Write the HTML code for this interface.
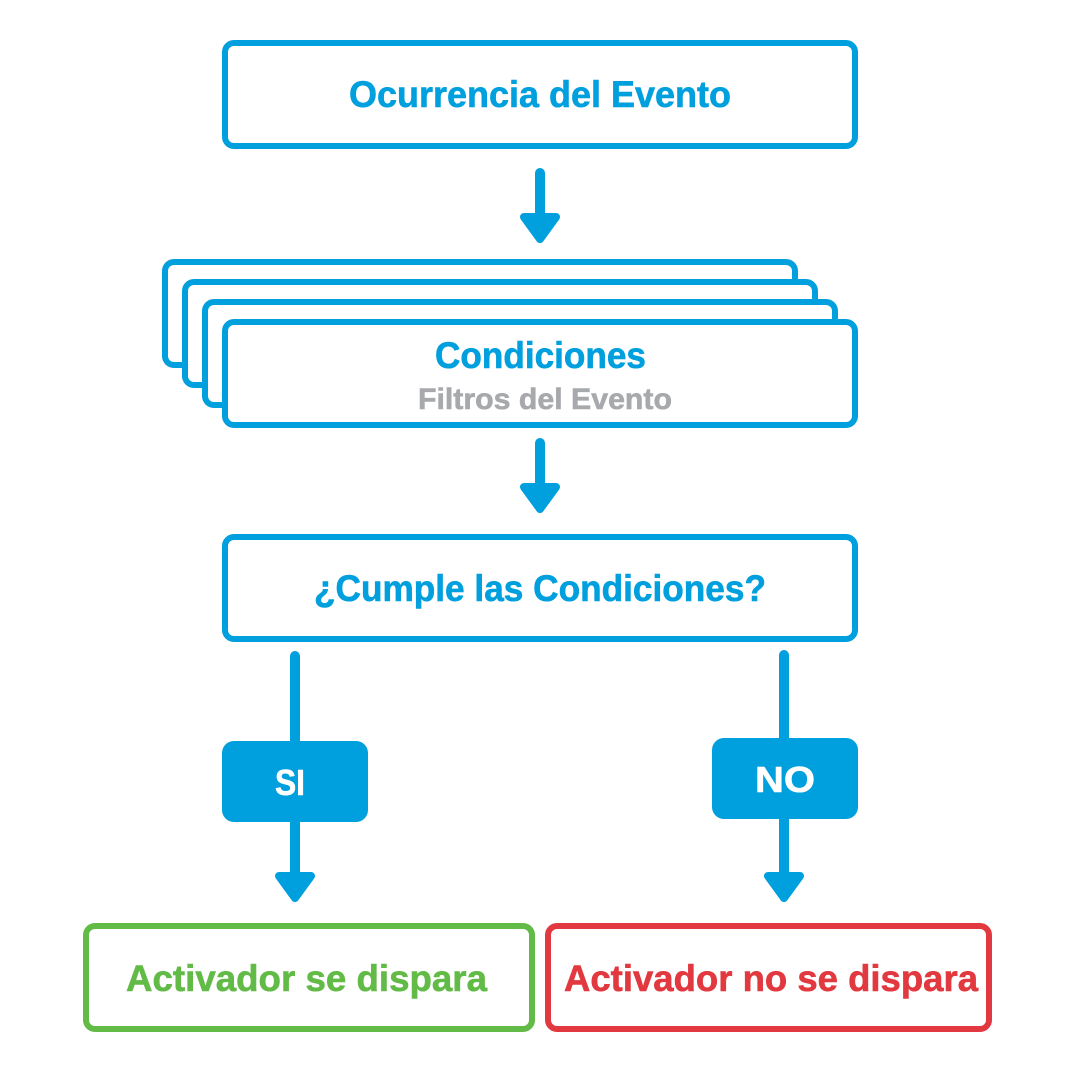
<!DOCTYPE html>
<html>
<head>
<meta charset="utf-8">
<style>
html,body{margin:0;padding:0;background:#fff}
svg{display:block}
text{font-family:"Liberation Sans",sans-serif;font-weight:700;stroke-width:.6px;paint-order:stroke}
</style>
</head>
<body>
<svg width="1080" height="1080" viewBox="0 0 1080 1080" xmlns="http://www.w3.org/2000/svg">
<rect width="1080" height="1080" fill="#fff"/>
<g fill="#fff" stroke="#009fdd" stroke-width="6">
<rect x="225" y="43" width="630" height="103" rx="9"/>
<rect x="165" y="262" width="630" height="103" rx="9"/>
<rect x="185" y="282" width="630" height="103" rx="9"/>
<rect x="205" y="302" width="630" height="103" rx="9"/>
<rect x="225" y="322" width="630" height="103" rx="9"/>
<rect x="225" y="537" width="630" height="102" rx="9"/>
</g>
<rect x="86" y="926" width="446" height="103" rx="9" fill="#fff" stroke="#62bb46" stroke-width="6"/>
<rect x="548" y="926" width="441" height="103" rx="9" fill="#fff" stroke="#e1393f" stroke-width="6"/>
<g stroke="#009fdd" stroke-width="10" stroke-linecap="round" fill="none">
<path d="M540 173V220"/>
<path d="M540 443V490"/>
<path d="M295 656V880"/>
<path d="M784 655V880"/>
</g>
<g fill="#009fdd" stroke="#009fdd" stroke-width="8" stroke-linejoin="round">
<path d="M524 217H556L540 239Z"/>
<path d="M524 487H556L540 509Z"/>
<path d="M279 876H311L295 898Z"/>
<path d="M768 876H800L784 898Z"/>
</g>
<rect x="222" y="741" width="146" height="81" rx="12" fill="#009fdd"/>
<rect x="712" y="738" width="146" height="81" rx="12" fill="#009fdd"/>
<g text-anchor="start">
<text x="349" y="107" font-size="37" fill="#009fdd" stroke="#009fdd" textLength="382" lengthAdjust="spacingAndGlyphs">Ocurrencia del Evento</text>
<text x="435" y="368" font-size="37" fill="#009fdd" stroke="#009fdd" textLength="211" lengthAdjust="spacingAndGlyphs">Condiciones</text>
<text x="418" y="409" font-size="30" fill="#a7a9ac" stroke="#a7a9ac" textLength="254" lengthAdjust="spacingAndGlyphs">Filtros del Evento</text>
<text x="314" y="601" font-size="37" fill="#009fdd" stroke="#009fdd" textLength="452" lengthAdjust="spacingAndGlyphs">¿Cumple las Condiciones?</text>
<text x="275" y="795" font-size="36" fill="#fff" stroke="#fff" textLength="30" lengthAdjust="spacingAndGlyphs">SI</text>
<text x="755" y="792" font-size="36" fill="#fff" stroke="#fff" textLength="60" lengthAdjust="spacingAndGlyphs">NO</text>
<text x="126" y="991" font-size="37" fill="#62bb46" stroke="#62bb46" textLength="361" lengthAdjust="spacingAndGlyphs">Activador se dispara</text>
<text x="564" y="991" font-size="37" fill="#e1393f" stroke="#e1393f" textLength="414" lengthAdjust="spacingAndGlyphs">Activador no se dispara</text>
</g>
</svg>
</body>
</html>
